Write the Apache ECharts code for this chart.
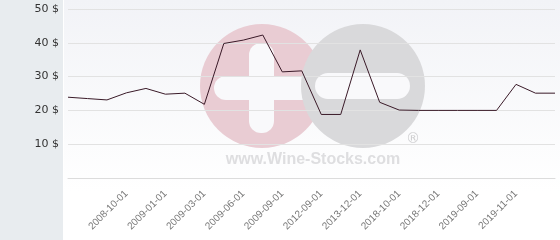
<!DOCTYPE html>
<html><head><meta charset="utf-8">
<script src="https://cdn.jsdelivr.net/npm/echarts@6/dist/echarts.min.js"></script>
<style>html,body{margin:0;padding:0;background:#fff}#c{width:560px;height:240px}</style>
</head><body><div id="c"></div>
<script>
const categories = ['', '', '', '2008-10-01', '', '2009-01-01', '', '2009-03-01', '', '2009-06-01', '', '2009-09-01', '', '2012-09-01', '', '2013-12-01', '', '2018-10-01', '', '2018-12-01', '', '2019-09-01', '', '2019-11-01', '', ''];
const prices = [23.9, 23.5, 23.1, 25.2, 26.5, 24.8, 25.1, 21.8, 39.8, 40.8, 42.3, 31.4, 31.7, 18.8, 18.8, 37.9, 22.4, 20.1, 20, 20, 20, 20, 20, 27.7, 25.1, 25.1];
const yTicks = [0, 10, 20, 30, 40, 50];

const chart = echarts.init(document.getElementById('c'), null, {renderer: 'canvas'});
const Z = -10;
chart.setOption({
  animation: false,
  backgroundColor: '#ffffff',
  textStyle: {fontFamily: 'DejaVu Sans'},
  graphic: [
    {type: 'rect', z: Z, silent: true, shape: {x: 0, y: 0, width: 63, height: 240}, style: {fill: '#e8ecef'}},
    {type: 'rect', z: Z, silent: true, shape: {x: 64, y: 0, width: 496, height: 240},
      style: {fill: new echarts.graphic.LinearGradient(0, 0, 0, 1, [{offset: 0, color: '#f2f3f7'}, {offset: 0.8, color: '#ffffff'}, {offset: 1, color: '#ffffff'}])}},
    {type: 'circle', z: Z, silent: true, shape: {cx: 262, cy: 86, r: 62}, style: {fill: '#e9ccd3'}},
    {type: 'rect', z: Z, silent: true, shape: {x: 249, y: 43, width: 25, height: 90, r: 12}, style: {fill: '#f9f9fb'}},
    {type: 'rect', z: Z, silent: true, shape: {x: 214, y: 76, width: 110, height: 24, r: 12}, style: {fill: '#f9f9fb'}},
    {type: 'circle', z: Z, silent: true, shape: {cx: 363, cy: 86, r: 62}, style: {fill: '#d9d9db'}},
    {type: 'rect', z: Z, silent: true, shape: {x: 315, y: 73, width: 95, height: 26, r: 13}, style: {fill: '#f9f9fb'}},
    {type: 'text', z: Z, silent: true, style: {x: 413, y: 139, text: '®', fill: '#cfcfd1', font: '14px DejaVu Sans', align: 'center', verticalAlign: 'middle'}},
    {type: 'text', z: Z, silent: true, style: {x: 313, y: 160, text: 'www.Wine-Stocks.com', fill: '#dedee0', font: 'bold 16px Liberation Sans', align: 'center', verticalAlign: 'middle'}}
  ],
  grid: {left: 68, right: 5, top: 9, bottom: 62, containLabel: false},
  xAxis: {
    type: 'category', data: categories, boundaryGap: false, z: 3,
    axisLine: {show: true, lineStyle: {color: '#dcdcdc'}},
    axisTick: {show: false},
    axisLabel: {interval: 0, rotate: 45, color: '#777', fontSize: 10, margin: 14, fontFamily: 'Liberation Sans'},
    splitLine: {show: false}
  },
  yAxis: {
    type: 'value', min: yTicks[0], max: yTicks[yTicks.length - 1], interval: 10, z: 3,
    axisLine: {show: false}, axisTick: {show: false},
    axisLabel: {color: '#333', fontSize: 11, margin: 9, showMinLabel: false, formatter: '{value} $', fontFamily: 'DejaVu Sans'},
    splitLine: {show: true, lineStyle: {color: '#e2e2e2', width: 1}}
  },
  series: [{
    type: 'line', data: prices, symbol: 'none', z: 5,
    lineStyle: {color: '#3a1a28', width: 1}
  }]
});
</script></body></html>
